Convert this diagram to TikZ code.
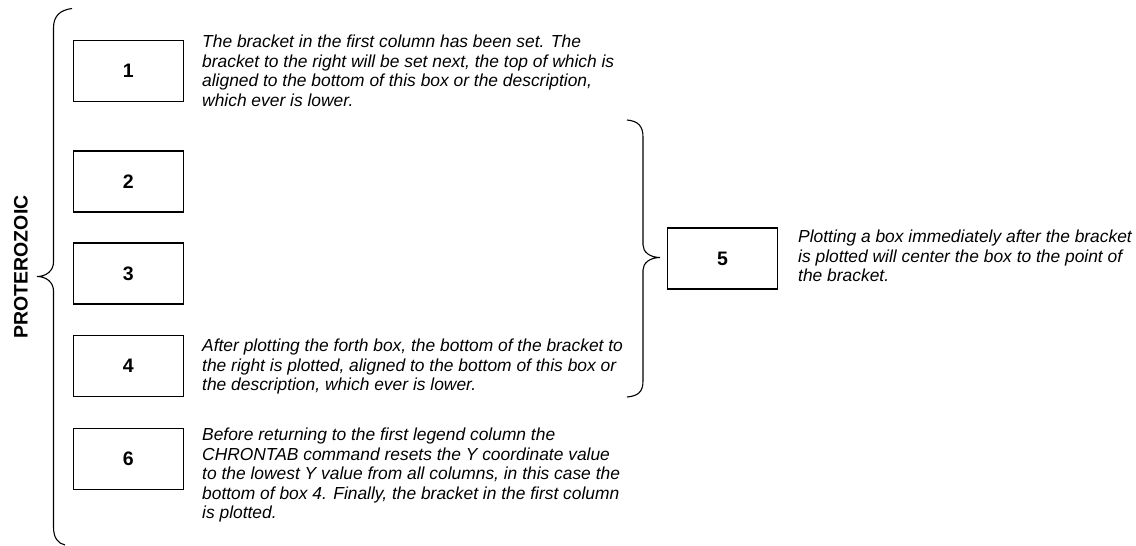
\documentclass[tikz,border=0pt]{standalone}
\usepackage{fontspec}
\setmainfont{Liberation Sans}
\begin{document}
\begin{tikzpicture}[x=1pt,y=-1pt,
  numbox/.style={draw, line width=1.4pt, minimum width=110pt, minimum height=61pt, inner sep=0pt,
    font=\fontsize{19.5}{22}\selectfont\bfseries},
  desc/.style={anchor=north west, align=left, inner sep=0pt,
    font=\fontsize{17.4}{19.5}\selectfont\itshape},
  brace/.style={line width=1.1pt},
  era/.style={rotate=90, inner sep=0pt, font=\fontsize{19.5}{22}\selectfont\bfseries}]
\useasboundingbox (0,0) rectangle (1136,546);

% boxes
\node[numbox] (b1) at (128.25,71) {1};
\node[numbox] (b2) at (128.25,181.5) {2};
\node[numbox] (b3) at (128.25,273.5) {3};
\node[numbox] (b4) at (128.25,366) {4};
\node[numbox] (b6) at (128.25,459) {6};
\node[numbox] (b5) at (722.5,258.5) {5};

% descriptions
\node[desc] (d1) at (202,35) {The bracket in the first column has been set. The\\
bracket to the right will be set next, the top of which is\\
aligned to the bottom of this box or the description,\\
which ever is lower.};
\node[desc] (d4) at (202,339) {After plotting the forth box, the bottom of the bracket to\\
the right is plotted, aligned to the bottom of this box or\\
the description, which ever is lower.};
\node[desc] (d5) at (798,230) {Plotting a box immediately after the bracket\\
is plotted will center the box to the point of\\
the bracket.};
\node[desc] (d6) at (202,428) {Before returning to the first legend column the\\
CHRONTAB command resets the Y coordinate value\\
to the lowest Y value from all columns, in this case the\\
bottom of box 4. Finally, the bracket in the first column\\
is plotted.};

% era label
\node[era] (era) at (21,267) {PROTEROZOIC};

% left bracket
\coordinate (l1) at (72,8.5);
\coordinate (l2) at (37,276.5);
\coordinate (l3) at (65,545);
\draw[brace] (l1) .. controls (60,10) and (53.5,16) .. (53.5,28) -- (53.5,262)
  .. controls (53.5,271) and (46,276.5) .. (l2)
  .. controls (46,276.5) and (53.5,282) .. (53.5,291) -- (53.5,527)
  .. controls (53.5,538) and (58,543.5) .. (l3);

% right bracket
\coordinate (r1) at (627,120);
\coordinate (r2) at (660,257.5);
\coordinate (r3) at (627,397);
\draw[brace] (r1) .. controls (638,121) and (643,126) .. (643,137) -- (643,245)
  .. controls (643,252) and (650,257.5) .. (r2)
  .. controls (650,257.5) and (643,263) .. (643,270) -- (643,381)
  .. controls (643,392) and (638,396) .. (r3);
\end{tikzpicture}
\end{document}
